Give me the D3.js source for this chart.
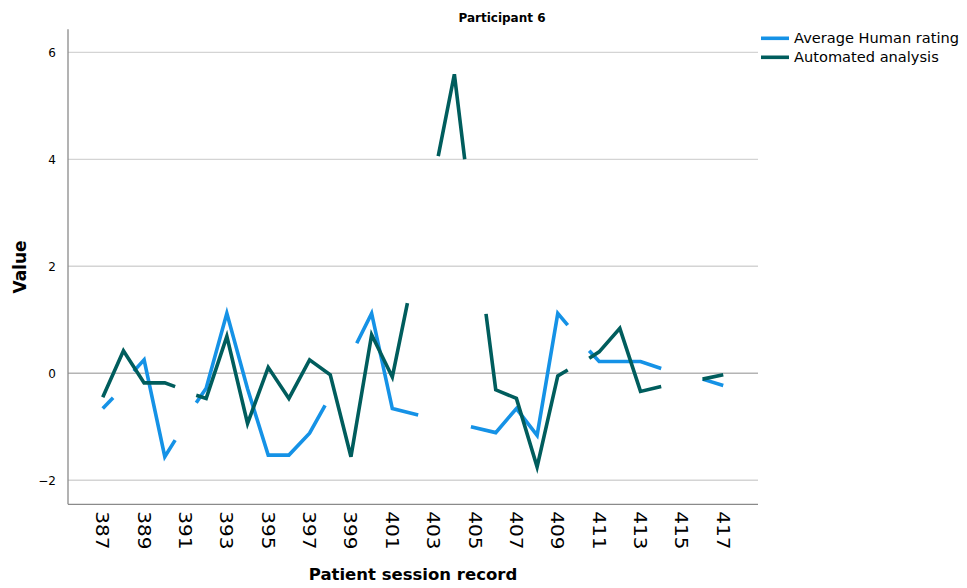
<!DOCTYPE html>
<html>
<head>
<meta charset="utf-8">
<script src="https://cdn.jsdelivr.net/npm/d3@7"></script>
<style>
  html, body { margin: 0; padding: 0; background: #fff; }
  svg { display: block; }
  text { font-family: "DejaVu Sans", "Open Sans", sans-serif; fill: #000; }
</style>
</head>
<body>
<svg id="chart" width="967" height="588"></svg>
<script>
// Session records shown on the x axis (every other one is labelled)
const sessionTicks = [387, 389, 391, 393, 395, 397, 399, 401, 403, 405, 407, 409, 411, 413, 415, 417];
const valueTicks = [-2, 0, 2, 4, 6];

// Each series is a list of unbroken runs of [session, value]; gaps are missing records
const humanRating = [
  [[387, -0.66], [387.5, -0.46]],
  [[388.5, 0.04], [389, 0.25], [390, -1.56], [390.5, -1.25]],
  [[391.52, -0.55], [392, -0.28], [393, 1.12], [394, -0.29], [395, -1.53], [396, -1.53], [397, -1.12], [397.75, -0.6]],
  [[399.28, 0.56], [400, 1.12], [401, -0.66], [402.25, -0.78]],
  [[404.8, -1.0], [406, -1.11], [407, -0.66], [408, -1.16], [409, 1.12], [409.48, 0.9]],
  [[410.52, 0.42], [411, 0.22], [412, 0.22], [413, 0.22], [414, 0.09]],
  [[416, -0.11], [417, -0.23]]
];

const automatedAnalysis = [
  [[387, -0.45], [388, 0.42], [389, -0.18], [390, -0.18], [390.5, -0.25]],
  [[391.52, -0.41], [392, -0.47], [393, 0.69], [394, -0.94], [395, 0.11], [396, -0.47], [397, 0.25], [398, -0.03], [399, -1.56], [400, 0.72], [401, -0.07], [401.73, 1.31]],
  [[403.22, 4.06], [404, 5.59], [404.5, 4.0]],
  [[405.53, 1.11], [406, -0.31], [407, -0.47], [408, -1.75], [409, -0.05], [409.48, 0.06]],
  [[410.52, 0.28], [411, 0.40], [412, 0.84], [413, -0.34], [414, -0.25]],
  [[416, -0.11], [417, -0.03]]
];

const seriesNames = ["Average Human rating", "Automated analysis"];
const seriesColors = ["#1592e6", "#005d5d"];

const svg = d3.select("#chart");
const plot = { left: 68, right: 758, top: 29.3, bottom: 504.3 };

// Category padding of the session axis on either side
const pad = 1.68;
const x = d3.scaleLinear()
  .domain([d3.min(sessionTicks) - pad, d3.max(sessionTicks) + pad])
  .range([plot.left, plot.right]);
const y = d3.scaleLinear()
  .domain([-2.45, 6.43])
  .range([plot.bottom, plot.top]);

// Horizontal gridlines
svg.append("g")
  .selectAll("line")
  .data(valueTicks)
  .join("line")
  .attr("x1", plot.left).attr("x2", plot.right)
  .attr("y1", d => y(d)).attr("y2", d => y(d))
  .attr("stroke", d => d === 0 ? "#b4b4b4" : "#d4d4d4")
  .attr("stroke-width", 1.3);

// Y axis
const yAxis = svg.append("g")
  .attr("transform", `translate(${plot.left},0)`)
  .call(d3.axisLeft(y).tickValues(valueTicks).tickSize(0).tickPadding(12).tickFormat(d => d < 0 ? "\u2212" + Math.abs(d) : d));
yAxis.select(".domain").attr("stroke", "#8a8a8a").attr("stroke-width", 1.3).attr("d", `M0,${plot.top}V${plot.bottom}`);
yAxis.selectAll("text").attr("font-size", 12).attr("fill", "#000").attr("font-family", "DejaVu Sans");

// X axis with labels running top-to-bottom
const xAxis = svg.append("g")
  .attr("transform", `translate(0,${plot.bottom})`)
  .call(d3.axisBottom(x).tickValues(sessionTicks).tickSize(0).tickFormat(d3.format("d")));
xAxis.select(".domain").attr("stroke", "#8a8a8a").attr("stroke-width", 1.3).attr("d", `M${plot.left},0H${plot.right}`);
xAxis.selectAll(".tick").attr("transform", null);
xAxis.selectAll("text")
  .attr("font-size", 17)
  .attr("font-family", "DejaVu Sans")
  .attr("fill", "#000")
  .attr("text-anchor", "start")
  .attr("dy", null)
  .attr("x", 0)
  .attr("y", 0)
  .attr("transform", d => `translate(${x(d)},7) rotate(90) scale(1.18,1) translate(0,6.5)`);

// Series lines
const line = d3.line().x(d => x(d[0])).y(d => y(d[1]));
[humanRating, automatedAnalysis].forEach((runs, i) => {
  svg.append("g")
    .selectAll("path")
    .data(runs)
    .join("path")
    .attr("d", line)
    .attr("fill", "none")
    .attr("stroke", seriesColors[i])
    .attr("stroke-width", 3.6)
    .attr("stroke-linejoin", "miter")
    .attr("stroke-linecap", "butt");
});

// Titles
svg.append("text")
  .attr("x", 502).attr("y", 22)
  .attr("text-anchor", "middle")
  .attr("font-size", 12).attr("font-weight", "bold")
  .text("Participant 6");

svg.append("text")
  .attr("x", (plot.left + plot.right) / 2).attr("y", 580)
  .attr("text-anchor", "middle")
  .attr("font-size", 16.5).attr("font-weight", "bold")
  .text("Patient session record");

svg.append("text")
  .attr("transform", `translate(26,267) rotate(-90)`)
  .attr("text-anchor", "middle")
  .attr("font-size", 17).attr("font-weight", "bold")
  .text("Value");

// Legend
const legend = svg.append("g").attr("transform", "translate(761,0)");
seriesNames.forEach((name, i) => {
  const ly = 38.3 + i * 19;
  legend.append("line")
    .attr("x1", 0).attr("x2", 28).attr("y1", ly).attr("y2", ly)
    .attr("stroke", seriesColors[i]).attr("stroke-width", 3.6);
  legend.append("text")
    .attr("x", 33).attr("y", ly + 5)
    .attr("font-size", 14.6)
    .text(name);
});
</script>
</body>
</html>
